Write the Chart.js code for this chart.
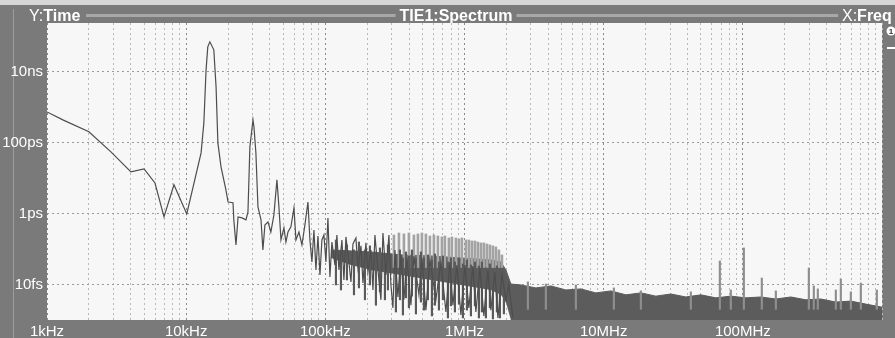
<!DOCTYPE html>
<html>
<head>
<meta charset="utf-8">
<title>TIE1:Spectrum</title>
<script src="https://cdn.jsdelivr.net/npm/chart.js@4.4.0/dist/chart.umd.min.js"></script>
<style>
  html, body { margin: 0; padding: 0; background: #7a7a7a; }
  #spec { display: block; }
</style>
</head>
<body>
<canvas id="spec" width="895" height="338"></canvas>
<script>
// frequency in kHz, jitter in ps
const traceKHz = [1.0, 1.3, 2.0, 2.88, 4.01, 4.98, 5.97, 6.93, 8.17, 10.1,
  12.8, 13.4, 13.9, 14.3, 14.8, 15.8, 16.4, 16.9, 17.8, 19.3,
  20.0, 21.7, 22.0, 22.8, 23.6, 25.2, 26.9, 27.8, 28.7, 30.2,
  30.7, 31.7, 32.8, 34.5, 35.6, 36.8, 38.7, 40.6, 42.7, 44.9,
  46.4, 48.0, 50.4, 52.1, 53.9, 56.6, 59.5, 61.5, 64.6, 67.9,
  71.3, 75.0, 77.5,
  80.1, 82.8, 85.6, 88.5, 91.5, 94.5, 97.7, 101, 104.4, 107.9,
  111.5, 117.2, 121.1, 125.2, 131.6, 136.0, 140.6, 147.7, 152.8, 157.9,
  165.9, 171.5, 180.3, 186.3, 195.7, 202.3, 212.6, 219.8, 227.2, 238.8,
  250.9, 259.4, 272.5, 286.4, 296.0, 305.9, 316.2, 332.3, 349.3, 367.0,
  385.7, 412.1, 433.0, 470.4, 494.3, 528.1, 564.2, 623.0, 676.8, 735.2,
  785.3, 825.3, 881.8, 942.2, 1007, 1075, 1149, 1207, 1290, 1378,
  1473, 1547, 1653, 1738, 1857, 1984, 2084, 2227];
const tracePs = [720, 430, 200, 54, 14.8, 18, 7.2, 0.80, 6.4, 0.97,
  50.6, 354, 11000, 49000, 67800, 40400, 3660, 97, 20.4, 4.6,
  2.1, 2.0, 0.66, 0.13, 0.80, 0.75, 0.66, 1.1, 74.7, 430,
  274, 50.6, 1.52, 0.66, 0.094, 0.47, 0.58, 0.30, 0.91, 8.8,
  1.52, 0.18, 0.39, 0.157, 0.30, 0.42, 1.43, 0.18, 0.30, 0.13,
  0.47, 2.1, 0.18,
  0.043, 0.343, 0.0256, 0.232, 0.0185, 0.179, 0.248, 0.043, 0.746, 0.0163,
  0.157, 0.0354, 0.248, 0.0256, 0.179, 0.0134, 0.218, 0.043, 0.0118, 0.138,
  0.204, 0.0292, 0.122, 0.0110, 0.148, 0.0225, 0.094, 0.0070, 0.248, 0.0256,
  0.0037, 0.282, 0.0185, 0.248, 0.0097, 0.0022, 0.094, 0.00445, 0.068, 0.0037,
  0.0558, 0.0026, 0.0635, 0.0051, 0.0558, 0.0019, 0.049, 0.0037, 0.043, 0.00168,
  0.043, 0.0026, 0.0354, 0.00138, 0.0354, 0.0022, 0.0332, 0.00168, 0.0292, 0.0013,
  0.0256, 0.0019, 0.0225, 0.00114, 0.0185, 0.0037, 0.0097, 0.00114];

// dense noise floor: upper and lower edge of the dark band
const bandKHz = [109.7, 152.8, 212.6, 349.3, 573.8, 942.2, 1547, 1826, 1984, 2155,
  2543, 3258, 4176, 5352, 6860, 8790, 11270, 14440, 18510, 23720,
  30400, 38960, 49920, 64000, 82000, 105100, 134700, 172700, 221300, 283600,
  363500, 465900, 597000, 765200, 1000000];
const bandTopPs = [0.094, 0.088, 0.0823, 0.068, 0.0635, 0.0558, 0.049, 0.043, 0.0256, 0.0103,
  0.0097, 0.0080, 0.0091, 0.0070, 0.0075, 0.0058, 0.0066, 0.0051, 0.0058, 0.0047,
  0.0054, 0.00445, 0.0051, 0.0042, 0.0047, 0.0042, 0.00445, 0.0039, 0.00445, 0.0037,
  0.0039, 0.0032, 0.0034, 0.0028, 0.0023];
const bandLowPs = [0.0558, 0.0354, 0.0256, 0.0185, 0.0134, 0.0097, 0.0070, 0.0051, 0.0032, 0.001,
  0.001, 0.001, 0.001, 0.001, 0.001, 0.001, 0.001, 0.001, 0.001, 0.001,
  0.001, 0.001, 0.001, 0.001, 0.001, 0.001, 0.001, 0.001, 0.001, 0.001,
  0.001, 0.001, 0.001, 0.001, 0.001];

// dark up/down excursions inside the band, 100 kHz - 2 MHz
const floorKHz = [119.2, 129.5, 143.0, 160.6, 174.4, 192.6, 209.1, 230.9, 246.8, 268.1,
  281.7, 321.5, 343.6, 361.0, 379.4, 398.6, 419.0, 447.7, 486.2, 510.9,
  545.8, 583.2, 613.0, 654.9, 699.6, 760.1, 798.8, 853.4, 911.6, 973.9,
  1041, 1112, 1188, 1269, 1334, 1425, 1522, 1600, 1709, 1797, 1919];
const floorTopPs = [0.179, 0.0823, 0.130, 0.094, 0.157, 0.094, 0.122, 0.0823, 0.107, 0.068,
  0.130, 0.068, 0.094, 0.0558, 0.0823, 0.0635, 0.094, 0.0558, 0.0823, 0.0558,
  0.068, 0.049, 0.0723, 0.043, 0.0635, 0.043, 0.0558, 0.043, 0.0558, 0.0378,
  0.049, 0.0354, 0.043, 0.0332, 0.043, 0.0292, 0.0378, 0.0256, 0.0332, 0.0256, 0.0225];
const floorLowPs = [0.0097, 0.0070, 0.0134, 0.0051, 0.0080, 0.0037, 0.0097, 0.0026, 0.0062, 0.0037,
  0.0070, 0.00168, 0.0037, 0.00138, 0.0042, 0.0022, 0.0047, 0.00148, 0.0032, 0.0019,
  0.0037, 0.0013, 0.0026, 0.0019, 0.0037, 0.00114, 0.0025, 0.00168, 0.0028, 0.00114,
  0.0019, 0.0013, 0.0025, 0.00114, 0.00168, 0.00114, 0.0022, 0.00107, 0.00168, 0.00114, 0.00148];

// harmonic comb between ~300 kHz and 2 MHz
const combKHz = [311.1, 337.9, 367.0, 398.6, 433.0, 462.8, 494.3, 528.1, 564.2, 602.8,
  644.1, 688.1, 723.1, 772.7, 811.8, 867.6, 911.6, 958.1, 1024, 1076,
  1130, 1188, 1248, 1312, 1378, 1449, 1522, 1600, 1681, 1767, 1857];
const combTopPs = [0.248, 0.282, 0.265, 0.282, 0.248, 0.265, 0.282, 0.265, 0.232, 0.248,
  0.232, 0.218, 0.232, 0.204, 0.218, 0.204, 0.191, 0.204, 0.179, 0.179,
  0.168, 0.168, 0.157, 0.148, 0.148, 0.138, 0.130, 0.122, 0.114, 0.094, 0.068];
const combBasePs = 0.03;

// isolated spurs above the floor
const spurKHz = [2854, 3844, 6314, 11840, 18510, 42310, 68370, 82000, 101700, 136900,
  172700, 298100, 323700, 345800, 465900, 506000, 597000, 704500, 918000];
const spurTopPs = [0.0118, 0.0103, 0.0097, 0.0080, 0.0066, 0.0062, 0.0459, 0.0070, 0.107, 0.0152,
  0.0066, 0.0292, 0.0091, 0.0075, 0.0070, 0.0143, 0.0062, 0.0110, 0.0070];
const spurBasePs = 0.002;

// axis labels
const xTickVals = [1, 10, 100, 1000, 10000, 100000];
const xTickLabels = ["1kHz", "10kHz", "100kHz", "1MHz", "10MHz", "100MHz"];
const yTickVals = [0.01, 1, 100, 10000];
const yTickLabels = ["10fs", "1ps", "100ps", "10ns"];

const titleText = "TIE1:Spectrum";
const frameGray = "#7a7a7a";
const fontFam = "'Liberation Sans', Arial, Helvetica, sans-serif";

Chart.defaults.font.family = fontFam;

function drawPair(c, a, b, x, y) {
  c.textAlign = "left";
  c.font = "16px " + fontFam;
  c.fillText(a, x, y);
  const w = c.measureText(a).width;
  c.font = "bold 16px " + fontFam;
  c.fillText(b, x + w, y);
}

const scopeFrame = {
  id: "scopeFrame",
  beforeDraw(chart) {
    const c = chart.ctx;
    const a = chart.chartArea;
    c.save();
    c.fillStyle = frameGray;
    c.fillRect(0, 0, chart.width, chart.height);
    c.fillStyle = "#d6d6d6";
    c.fillRect(0, 0, chart.width, 5);
    c.fillStyle = "#f7f7f7";
    c.fillRect(a.left, a.top, a.right - a.left, a.bottom - a.top);
    c.fillStyle = "#9c9c9c";
    c.fillRect(13, 9, 1, chart.height - 9);
    // header rule with the title sitting on it
    c.fillStyle = "#a8a8a8";
    c.fillRect(86, 14, 752, 3);
    c.font = "bold 16px " + fontFam;
    const w = c.measureText(titleText).width;
    c.fillStyle = frameGray;
    c.fillRect(456 - w / 2 - 4, 8, w + 8, 14);
    c.fillStyle = "#fff";
    c.textBaseline = "alphabetic";
    c.textAlign = "center";
    c.fillText(titleText, 456, 21);
    drawPair(c, "Y:", "Time", 29, 21);
    drawPair(c, "X:", "Freq", 842, 21);
    c.restore();
  },
  afterDraw(chart) {
    const c = chart.ctx;
    c.save();
    // channel marker on the right edge
    c.fillStyle = "#fff";
    c.beginPath();
    c.arc(891, 31, 4.5, 0, Math.PI * 2);
    c.fill();
    c.fillStyle = "#333";
    c.font = "bold 8px " + fontFam;
    c.textAlign = "center";
    c.textBaseline = "middle";
    c.fillText("1", 891, 31.5);
    c.fillStyle = "#fff";
    c.fillRect(887, 47, 8, 2);
    c.restore();
  },
};

// grid positions: every 1..9 per decade
const xGrid = [];
for (let d = 0; d < 6; d++) {
  for (let m = 1; m < 10; m++) xGrid.push(m * Math.pow(10, d));
}
xGrid.push(1000000);

const ctx = document.getElementById("spec").getContext("2d");

new Chart(ctx, {
  type: "line",
  data: {
    datasets: [
      {
        type: "line",
        data: bandKHz.map((k, i) => ({ x: k, y: bandTopPs[i] })),
        borderColor: "#5a5a5a",
        borderWidth: 1,
        pointRadius: 0,
        fill: false,
        order: 6,
      },
      {
        type: "line",
        data: bandKHz.map((k, i) => ({ x: k, y: bandLowPs[i] })),
        borderWidth: 0,
        pointRadius: 0,
        backgroundColor: "#5c5c5c",
        fill: "-1",
        order: 5,
      },
      {
        type: "bar",
        data: combKHz.map((k, i) => ({ x: k, y: [combBasePs, combTopPs[i]] })),
        backgroundColor: "#a3a3a3",
        barThickness: 2,
        grouped: false,
        order: 4,
      },
      {
        type: "bar",
        data: floorKHz.map((k, i) => ({ x: k, y: [floorLowPs[i], floorTopPs[i]] })),
        backgroundColor: "#5a5a5a",
        barThickness: 1.5,
        grouped: false,
        order: 3,
      },
      {
        type: "bar",
        data: spurKHz.map((k, i) => ({ x: k, y: [spurBasePs, spurTopPs[i]] })),
        backgroundColor: "#8e8e8e",
        barThickness: 1.5,
        grouped: false,
        order: 2,
      },
      {
        type: "line",
        data: traceKHz.map((k, i) => ({ x: k, y: tracePs[i] })),
        borderColor: "#4d4d4d",
        borderWidth: 1.2,
        pointRadius: 0,
        tension: 0,
        fill: false,
        order: 1,
      },
    ],
  },
  options: {
    responsive: false,
    animation: false,
    devicePixelRatio: 1,
    events: [],
    layout: { padding: { top: 23, right: 13, left: 0, bottom: 0 } },
    plugins: {
      legend: { display: false },
      tooltip: { enabled: false },
    },
    scales: {
      x: {
        type: "logarithmic",
        min: 1,
        max: 1000000,
        bounds: "data",
        offset: false,
        afterBuildTicks: (s) => {
          s.ticks = xGrid.map((v) => ({ value: v }));
        },
        afterFit: (s) => {
          s.height = 18;
        },
        grid: {
          offset: false,
          drawTicks: false,
          color: (c) => (c.tick && xTickVals.includes(c.tick.value) ? "#8a8a8a" : "#b8b8b8"),
        },
        border: { display: false, dash: [2, 3] },
        ticks: {
          autoSkip: false,
          maxRotation: 0,
          padding: 3,
          color: "#fff",
          font: { size: 15 },
          callback: (v) => {
            const i = xTickVals.indexOf(v);
            return i >= 0 ? xTickLabels[i] : "";
          },
        },
      },
      y: {
        type: "logarithmic",
        min: 0.001,
        max: 230000,
        bounds: "data",
        afterBuildTicks: (s) => {
          s.ticks = yTickVals.map((v) => ({ value: v }));
        },
        afterFit: (s) => {
          s.width = 47;
        },
        grid: { drawTicks: false, color: "#9a9a9a" },
        border: { display: false, dash: [2, 3] },
        ticks: {
          padding: 4,
          color: "#fff",
          font: { size: 15 },
          callback: (v) => {
            const i = yTickVals.indexOf(v);
            return i >= 0 ? yTickLabels[i] : "";
          },
        },
      },
    },
  },
  plugins: [scopeFrame],
});
</script>
</body>
</html>
